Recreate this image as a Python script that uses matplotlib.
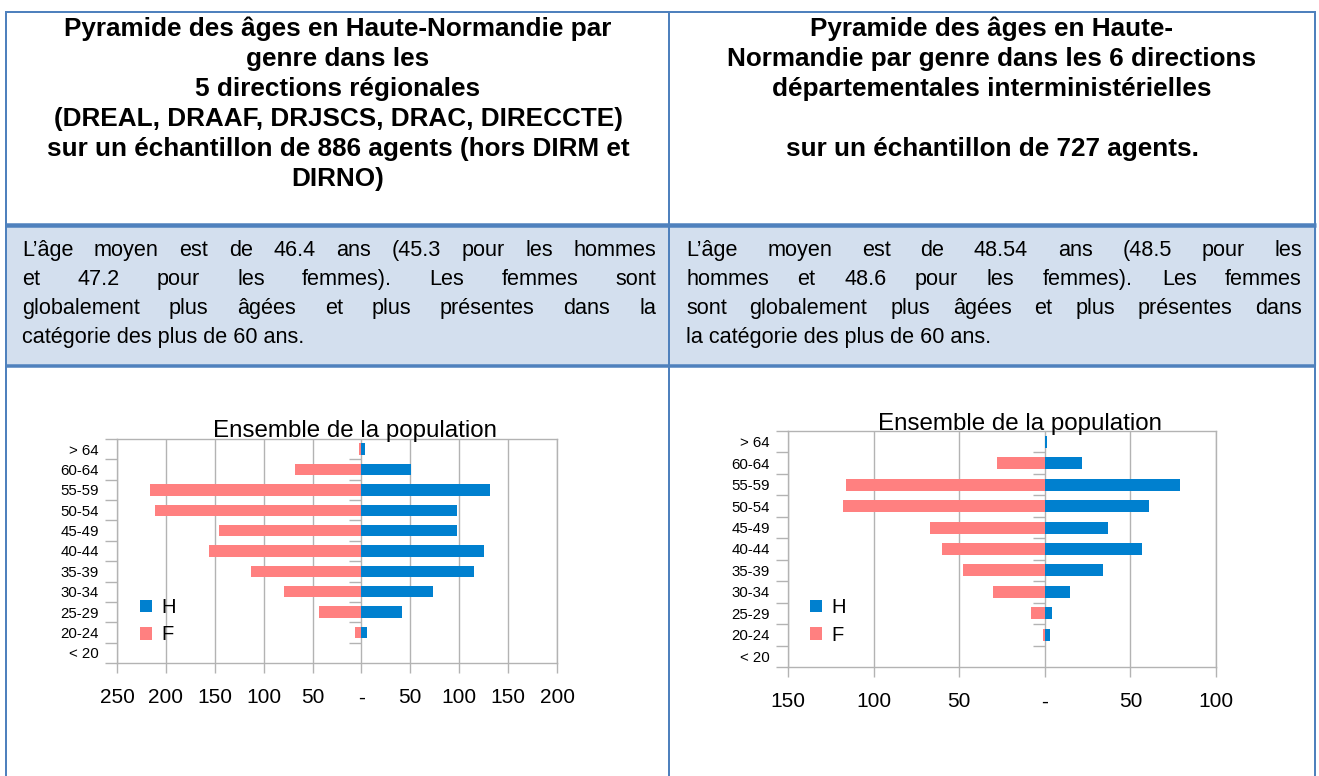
import numpy as np
import matplotlib
matplotlib.use("Agg")
import matplotlib.pyplot as plt
from matplotlib.lines import Line2D
from matplotlib.patches import Rectangle

W, H = 1319, 776
plt.rcParams['font.family'] = ['Liberation Sans', 'DejaVu Sans']

# data read from the two pyramids (bottom to top)
age_groups = ["< 20", "20-24", "25-29", "30-34", "35-39", "40-44",
              "45-49", "50-54", "55-59", "60-64", "> 64"]
regional_h = [0, 6, 41, 73, 115, 125, 98, 98, 131, 51, 4]
regional_f = [0, 7, 43, 79, 113, 156, 146, 211, 216, 68, 3]
ddi_h = [0, 3, 4, 15, 34, 57, 37, 61, 79, 22, 1]
ddi_f = [0, 1, 8, 30, 48, 60, 67, 118, 116, 28, 0]

header_left = ["Pyramide des âges en Haute-Normandie par",
               "genre dans les",
               "5 directions régionales",
               "(DREAL, DRAAF, DRJSCS, DRAC, DIRECCTE)",
               "sur un échantillon de 886 agents (hors DIRM et",
               "DIRNO)"]
header_right = ["Pyramide des âges en Haute-",
                "Normandie par genre dans les 6 directions",
                "départementales interministérielles",
                "",
                "sur un échantillon de 727 agents."]
body_left = ["L’âge moyen est de 46.4 ans (45.3 pour les hommes",
             "et 47.2 pour les femmes). Les femmes sont",
             "globalement plus âgées et plus présentes dans la",
             "catégorie des plus de 60 ans."]
body_right = ["L’âge moyen est de 48.54 ans (48.5 pour les",
              "hommes et 48.6 pour les femmes). Les femmes",
              "sont globalement plus âgées et plus présentes dans",
              "la catégorie des plus de 60 ans."]

BLUE = "#0080CF"
PINK = "#FF8080"
GRID = "#B3B3B3"
BORDER = "#4F81BD"
CELL = "#D3DFEE"
BODY_SIZE = 15.6

fig = plt.figure(figsize=(W / 100, H / 100), dpi=100)
renderer = fig.canvas.get_renderer()


def fx(x):
    return x / W


def fy(y):
    return 1 - y / H


def line(x0, y0, x1, y1, px, color=BORDER):
    fig.add_artist(Line2D([fx(x0), fx(x1)], [fy(y0), fy(y1)], color=color,
                          lw=px * 0.72, solid_capstyle='butt', zorder=5))


def text_width(s):
    t = fig.text(0, 0, s, fontsize=BODY_SIZE)
    w = t.get_window_extent(renderer).width
    t.remove()
    return w


def justified(lines, x0, x1, base, step):
    for i, ln in enumerate(lines):
        y = base + i * step
        words = ln.split(" ")
        if i == len(lines) - 1 or len(words) == 1:
            fig.text(fx(x0), fy(y), ln, fontsize=BODY_SIZE, va='baseline')
            continue
        widths = [text_width(w) for w in words]
        gap = (x1 - x0 - sum(widths)) / (len(words) - 1)
        x = x0
        for w, wd in zip(words, widths):
            fig.text(fx(x), fy(y), w, fontsize=BODY_SIZE, va='baseline')
            x += wd + gap


# table
fig.add_artist(Rectangle((fx(6), fy(365)), fx(1315) - fx(6), fy(226) - fy(365),
                         color=CELL, zorder=0))
line(5, 12, 1316, 12, 2)
line(5, 224.5, 1316, 224.5, 4.5)
line(5, 365.5, 1316, 365.5, 3.5)
for xv in (6, 668.5, 1315):
    line(xv, 11, xv, 776, 2)

for i, ln in enumerate(header_left):
    fig.text(fx(338), fy(36 + 30 * i), ln, fontsize=18.8, weight='bold',
             ha='center', va='baseline')
for i, ln in enumerate(header_right):
    fig.text(fx(992), fy(36 + 30 * i), ln, fontsize=18.8, weight='bold',
             ha='center', va='baseline')

justified(body_left, 22, 656, 256, 29)
justified(body_right, 686, 1302, 256, 29)


def pyramid(rect, hommes, femmes, xleft, xright, title_pos, leg_pos):
    l, t, r, b = rect
    ax = fig.add_axes([fx(l), fy(b), fx(r) - fx(l), fy(t) - fy(b)])
    y = np.arange(len(age_groups))
    ax.barh(y, hommes, height=0.56, color=BLUE, label='H', zorder=3)
    ax.barh(y, -np.array(femmes), height=0.56, color=PINK, label='F', zorder=3)
    ax.set_xlim(-xleft, xright)
    ax.set_ylim(-0.5, len(age_groups) - 0.5)
    ticks = np.arange(-xleft, xright + 1, 50)
    ax.set_xticks(ticks)
    ax.set_xticklabels([str(abs(int(v))) if v != 0 else '-' for v in ticks])
    ax.grid(axis='x', color=GRID, lw=1, zorder=0)
    ax.set_yticks(y)
    ax.set_yticklabels(age_groups)
    ax.set_yticks(np.arange(-0.5, len(age_groups)), minor=True)
    ax.tick_params(axis='y', which='major', length=0, pad=13, labelsize=10.8)
    ax.tick_params(axis='y', which='minor', length=8.6, color=GRID, width=1)
    ax.tick_params(axis='x', length=7.2, color=GRID, width=1, pad=11, labelsize=15)
    for s in ax.spines.values():
        s.set_color(GRID)
        s.set_linewidth(1)
    # little ticks on the zero axis
    d = 12 * (xleft + xright) / (r - l)
    ax.hlines(np.arange(0.5, len(age_groups) - 1), -d, 0, color=GRID, lw=1, zorder=2)
    ax.text(title_pos[0], title_pos[1], "Ensemble de la population", fontsize=17.4,
            ha='center', va='baseline', transform=ax.transAxes)
    ax.legend(loc='upper left', bbox_to_anchor=leg_pos, frameon=False, fontsize=14.5,
              handlelength=0.62, handleheight=0.6, handletextpad=0.45,
              labelspacing=0.42, borderpad=0, borderaxespad=0)
    return ax


pyramid((117, 439, 557, 663), regional_h, regional_f, 250, 200, (0.54, 1.009), (0.052, 0.29))
pyramid((788, 431, 1216, 667), ddi_h, ddi_f, 150, 100, (0.542, 1.004), (0.051, 0.292))

fig.savefig("out.png", dpi=100)
